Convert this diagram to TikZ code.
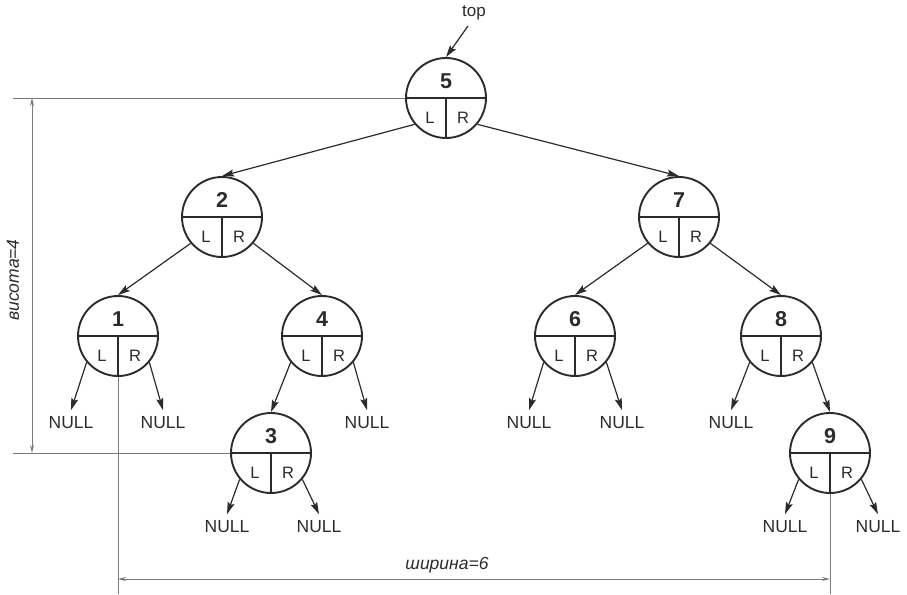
\documentclass[tikz,border=0pt]{standalone}
\usepackage{fontspec}
\setmainfont{Liberation Sans}
\usetikzlibrary{arrows.meta,calc}
\definecolor{ink}{HTML}{2B2B2B}
\definecolor{dimgrey}{HTML}{7A7A7A}
\tikzset{
  tcirc/.style={circle,draw=ink,line width=1.9pt,minimum size=80pt,inner sep=0pt},
  divider/.style={draw=ink,line width=1.2pt},
  num/.style={font=\fontsize{21.5}{21.5}\selectfont\bfseries,text=ink,inner sep=0pt},
  lrtext/.style={font=\fontsize{16.5}{16.5}\selectfont,text=ink,inner sep=0pt},
  nulltext/.style={font=\fontsize{17.5}{17.5}\selectfont,text=ink,inner xsep=1pt,inner ysep=6.5pt},
  edge/.style={draw=ink,line width=1.2pt,-{Stealth[length=12pt,width=7pt,inset=2pt]}},
  dimline/.style={draw=dimgrey,line width=0.9pt},
  dimarrow/.style={draw=dimgrey,line width=0.9pt,{Stealth[length=8pt,width=4pt]}-{Stealth[length=8pt,width=4pt]}},
  dimlabel/.style={font=\fontsize{17.5}{17.5}\selectfont\itshape,text=ink,inner sep=0pt}
}
\newcommand\tnode[4]{%
  \node[tcirc] (#1) at (#2,#3) {};
  \draw[divider] (#1.west) -- (#1.east) (#1.center) -- (#1.south);
  \node[num] (#1-num) at ($(#1)+(0,-17)$) {#4};
  \node[lrtext] (#1-L) at ($(#1)+(-16,20)$) {L};
  \node[lrtext] (#1-R) at ($(#1)+(17,20)$) {R};
}
\begin{document}
\begin{tikzpicture}[x=1pt,y=-1pt]
\useasboundingbox (0,0) rectangle (907,594);
% dimension lines (behind)
\draw[dimline] (13,98) -- (406,98);
\draw[dimline] (13,453) -- (232,453);
\draw[dimline] (118,376) -- (118,594);
\draw[dimline] (830,493) -- (830,594);
\coordinate (hA) at (32,98);
\coordinate (hB) at (32,453);
\draw[dimarrow] (hA) -- (hB);
\node[dimlabel,rotate=90] (hlbl) at (13,280) {висота=4};
\coordinate (wA) at (118,579);
\coordinate (wB) at (830,579);
\draw[dimarrow] (wA) -- (wB);
\node[dimlabel] (wlbl) at (447,565) {ширина=6};
% nodes
\tnode{n5}{446}{98}{5}
\tnode{n2}{222}{217}{2}
\tnode{n7}{679}{217}{7}
\tnode{n1}{118}{336}{1}
\tnode{n4}{322}{336}{4}
\tnode{n6}{575}{336}{6}
\tnode{n8}{781}{336}{8}
\tnode{n3}{271}{453}{3}
\tnode{n9}{830}{453}{9}
% top pointer
\node[font=\fontsize{17}{17}\selectfont,text=ink,inner sep=0pt] (toplbl) at (474,13) {top};
\coordinate (topstart) at (468,26);
\draw[edge] (topstart) -- (n5.north);
% tree edges
\draw[edge] (n5.-140) -- (n2.north);
\draw[edge] (n5.-40) -- (n7.north);
\draw[edge] (n2.-140) -- (n1.north);
\draw[edge] (n2.-40) -- (n4.north);
\draw[edge] (n7.-140) -- (n6.north);
\draw[edge] (n7.-40) -- (n8.north);
\draw[edge] (n4.-140) -- (n3.north);
\draw[edge] (n8.-40) -- (n9.north);
% NULL leaves
\node[nulltext] (u1) at (71,423) {NULL};
\node[nulltext] (u2) at (163,423) {NULL};
\node[nulltext] (u3) at (367,423) {NULL};
\node[nulltext] (u4) at (529,423) {NULL};
\node[nulltext] (u5) at (622,423) {NULL};
\node[nulltext] (u6) at (731,423) {NULL};
\node[nulltext] (u7) at (227,527) {NULL};
\node[nulltext] (u8) at (319,527) {NULL};
\node[nulltext] (u9) at (785,527) {NULL};
\node[nulltext] (u10) at (878,527) {NULL};
\draw[edge] (n1.-140) -- (u1.north);
\draw[edge] (n1.-40) -- (u2.north);
\draw[edge] (n4.-40) -- (u3.north);
\draw[edge] (n6.-140) -- (u4.north);
\draw[edge] (n6.-40) -- (u5.north);
\draw[edge] (n8.-140) -- (u6.north);
\draw[edge] (n3.-140) -- (u7.north);
\draw[edge] (n3.-40) -- (u8.north);
\draw[edge] (n9.-140) -- (u9.north);
\draw[edge] (n9.-40) -- (u10.north);
\end{tikzpicture}
\end{document}
